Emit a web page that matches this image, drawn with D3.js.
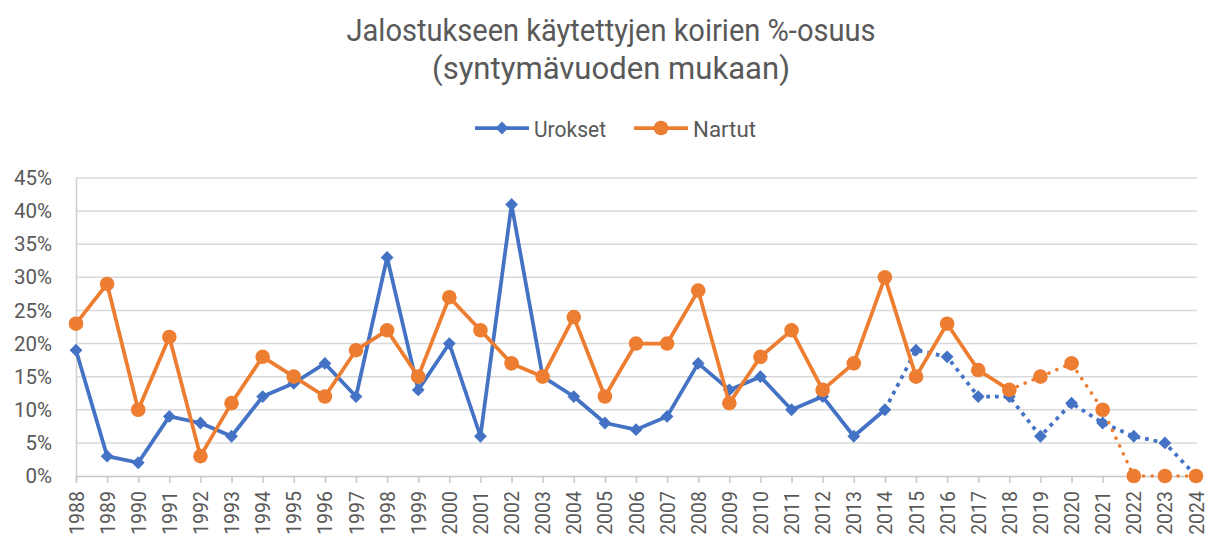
<!DOCTYPE html>
<html>
<head>
<meta charset="utf-8">
<script src="https://cdn.jsdelivr.net/npm/d3@7"></script>
<style>
  body { margin: 0; background: #fff; }
  svg text { font-family: "Liberation Sans Narrow", "Roboto", sans-serif; fill: #595959; }
</style>
</head>
<body>
<svg id="chart" width="1208" height="537"></svg>
<script>
const years = d3.range(1988, 2025);
const urokset = [19, 3, 2, 9, 8, 6, 12, 14, 17, 12, 33, 13, 20, 6, 41, 15, 12, 8, 7, 9, 17, 13, 15, 10, 12, 6, 10, 19, 18, 12, 12, 6, 11, 8, 6, 5, 0];
const nartut = [23, 29, 10, 21, 3, 11, 18, 15, 12, 19, 22, 15, 27, 22, 17, 15, 24, 12, 20, 20, 28, 11, 18, 22, 13, 17, 30, 15, 23, 16, 13, 15, 17, 10, 0, 0, 0];
// last year drawn solid, after that dotted
const uroksetSolidUntil = 2014;
const nartutSolidUntil = 2018;
const yTicks = [0, 5, 10, 15, 20, 25, 30, 35, 40, 45];

const blue = "#4472C4", orange = "#ED7D31";
const svg = d3.select("#chart");

const x = d3.scalePoint().domain(years).range([76, 1196]);
const y = d3.scaleLinear().domain([0, 45]).range([476, 178]);

// title (the original font is narrow, so squeeze it a bit)
svg.append("text").attr("x", 611).attr("y", 41).attr("text-anchor", "middle")
  .attr("textLength", 529).attr("lengthAdjust", "spacingAndGlyphs")
  .style("font-size", "31px").text("Jalostukseen käytettyjen koirien %-osuus");
svg.append("text").attr("x", 611).attr("y", 79).attr("text-anchor", "middle")
  .attr("textLength", 358).attr("lengthAdjust", "spacingAndGlyphs")
  .style("font-size", "31px").text("(syntymävuoden mukaan)");

// gridlines
svg.append("g").selectAll("line").data(yTicks.filter(d => d > 0)).enter().append("line")
  .attr("x1", 76).attr("x2", 1197)
  .attr("y1", d => y(d)).attr("y2", d => y(d))
  .attr("stroke", "#d9d9d9").attr("stroke-width", 1.5);

// y axis
const yAxis = svg.append("g").attr("transform", "translate(76,0)")
  .call(d3.axisLeft(y).tickValues(yTicks).tickFormat(d => d + "%").tickSize(0).tickPadding(24));
yAxis.select(".domain").attr("stroke", "#d0d0d0").attr("stroke-width", 1.5);
yAxis.selectAll("text").style("font-size", "20.5px").attr("fill", "#595959");

// x axis
const xAxis = svg.append("g").attr("transform", "translate(0,476)")
  .call(d3.axisBottom(x).tickSize(7).tickPadding(4));
xAxis.select(".domain").attr("stroke", "#c8c8c8").attr("stroke-width", 1.5);
xAxis.selectAll(".tick line").attr("stroke", "#c8c8c8").attr("stroke-width", 1.5);
xAxis.selectAll("text")
  .style("font-size", "19.5px").attr("fill", "#595959")
  .attr("transform", "rotate(-90)")
  .attr("text-anchor", "end")
  .attr("x", -15).attr("y", 0).attr("dy", "0.36em");

const line = d3.line().x(d => x(d.year)).y(d => y(d.v));

function drawSeries(vals, color, solidUntil, dash, cap, dotWidth) {
  const pts = years.map((yr, i) => ({year: yr, v: vals[i]}));
  const g = svg.append("g");
  g.append("path").datum(pts.filter(d => d.year <= solidUntil))
    .attr("d", line).attr("fill", "none").attr("stroke", color)
    .attr("stroke-width", 3.75).attr("stroke-linejoin", "round");
  g.append("path").datum(pts.filter(d => d.year >= solidUntil))
    .attr("d", line).attr("fill", "none").attr("stroke", color)
    .attr("stroke-width", dotWidth).attr("stroke-dasharray", dash).attr("stroke-linecap", cap);
  return {g, pts};
}

const u = drawSeries(urokset, blue, uroksetSolidUntil, "3.75 5", "butt", 3.75);
const n = drawSeries(nartut, orange, nartutSolidUntil, "0.1 8.5", "round", 3.5);

const diamond = d3.symbol().type(d3.symbolSquare).size(82);
u.g.selectAll("path.m").data(u.pts).enter().append("path").attr("class", "m")
  .attr("d", diamond)
  .attr("transform", d => `translate(${x(d.year)},${y(d.v)}) rotate(45)`)
  .attr("fill", blue);

n.g.selectAll("circle").data(n.pts).enter().append("circle")
  .attr("cx", d => x(d.year)).attr("cy", d => y(d.v)).attr("r", 7.3)
  .attr("fill", orange);

// legend
const legend = [
  {name: "Urokset", color: blue, x0: 475, w: 72},
  {name: "Nartut", color: orange, x0: 634, w: 63}
];
legend.forEach(l => {
  const g = svg.append("g");
  g.append("line").attr("x1", l.x0).attr("x2", l.x0 + 54).attr("y1", 128).attr("y2", 128)
    .attr("stroke", l.color).attr("stroke-width", 3.75);
  if (l.name === "Urokset") {
    g.append("path").attr("d", diamond())
      .attr("transform", `translate(${l.x0 + 27},128) rotate(45)`).attr("fill", l.color);
  } else {
    g.append("circle").attr("cx", l.x0 + 27).attr("cy", 128).attr("r", 7.3).attr("fill", l.color);
  }
  g.append("text").attr("x", l.x0 + 59).attr("y", 137)
    .attr("textLength", l.w).attr("lengthAdjust", "spacingAndGlyphs")
    .style("font-size", "22px").text(l.name);
});
</script>
</body>
</html>
